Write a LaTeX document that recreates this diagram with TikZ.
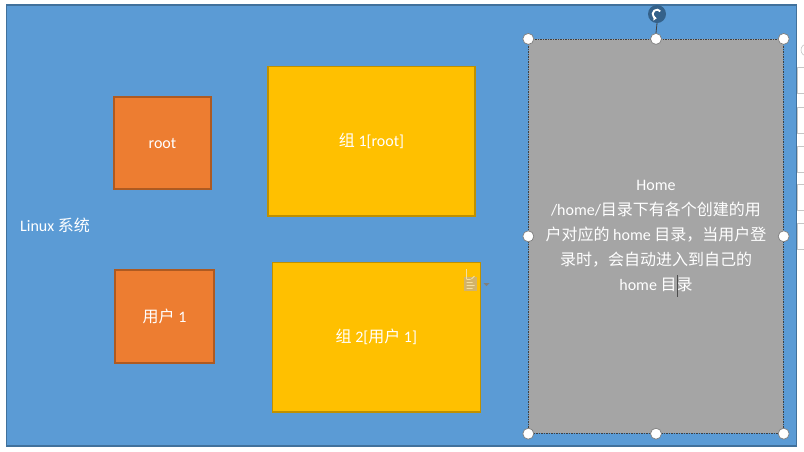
\documentclass[tikz,border=0pt]{standalone}
\usepackage{fontspec}
\setmainfont{Carlito}
\newfontfamily\cjk{Noto Sans CJK SC}
\usetikzlibrary{arrows.meta}
\definecolor{bgblue}{HTML}{5B9BD5}
\definecolor{bgblueline}{HTML}{41719C}
\definecolor{orangefill}{HTML}{ED7D31}
\definecolor{orangeline}{HTML}{AE5A21}
\definecolor{yellowfill}{HTML}{FFC000}
\definecolor{yellowline}{HTML}{BF9000}
\definecolor{grayfill}{HTML}{A5A5A5}
\definecolor{rotblue}{HTML}{34618A}
\definecolor{handleline}{HTML}{7F7F7F}
\definecolor{tbline}{HTML}{C6C6C6}
\definecolor{pastefill}{HTML}{D2B36C}
\definecolor{pasteline}{HTML}{F5DFA0}
\tikzset{
  txt/.style={text=white, font=\fontsize{16}{25}\selectfont},
  userbox/.style={draw=orangeline, fill=orangefill, line width=1.6pt, txt, inner sep=0pt},
  groupbox/.style={draw=yellowline, fill=yellowfill, line width=1.6pt, txt, inner sep=0pt},
  handle/.style={circle, fill=white, draw=handleline, line width=0.7pt, minimum size=11pt, inner sep=0pt},
  tbbox/.style={fill=white, draw=tbline, line width=0.6pt, inner sep=0pt}
}
\begin{document}
\begin{tikzpicture}[x=1pt,y=-1pt]
\useasboundingbox (0,0) rectangle (804,451);
\fill[white] (0,0) rectangle (804,451);
% background
\node[draw=bgblueline, fill=bgblue, line width=1.5pt, minimum width=790pt, minimum height=441pt, inner sep=0pt] (sys) at (401.5,225.5) {};
\node[txt, anchor=west, inner sep=0pt] (systxt) at (20,225) {Linux {\cjk 系统}};
% users
\node[userbox, minimum width=97pt, minimum height=92pt] (root) at (162.5,143) {root};
\node[userbox, minimum width=99pt, minimum height=93pt] (user1) at (164.5,316.5) {{\cjk 用户} 1};
% groups
\node[groupbox, minimum width=207.5pt, minimum height=149.5pt] (g1) at (371.5,141.2) {{\cjk 组} 1[root]};
\node[groupbox, minimum width=208pt, minimum height=149.5pt] (g2) at (376.3,337.2) {{\cjk 组} 2[{\cjk 用户} 1]};
% paste icon
\node[fill=pastefill, minimum width=13pt, minimum height=14pt, inner sep=0pt] (paste) at (470.5,284) {};
\draw[pasteline, line width=0.9pt]
  ([xshift=-4pt,yshift=4.5pt]paste.center) -- ++(4,0)
  ([xshift=-4pt,yshift=1.5pt]paste.center) -- ++(6,0)
  ([xshift=-4pt,yshift=-1.5pt]paste.center) -- ++(8,0)
  ([xshift=-4pt,yshift=-4.5pt]paste.center) -- ++(6,0)
  ([xshift=-4pt,yshift=5pt]paste.center) -- ++(0,-10)
  ([xshift=1pt,yshift=5pt]paste.center) -- ++(3,-3);
\coordinate (pastearrow) at (486.5,284);
\fill[handleline] (pastearrow) ++(-3,-1) -- ++(6,0) -- ++(-3,3) -- cycle;
% home box
\node[fill=grayfill, draw=black!75, dash pattern=on 1.5pt off 1pt, line width=0.8pt, minimum width=254.6pt, minimum height=394pt, inner sep=0pt, txt, align=center] (home) at (656,236.3)
{Home\\
/home/{\cjk 目录下有各个创建的用}\\
{\cjk 户对应的} home {\cjk 目录，当用户登}\\
{\cjk 录时，会自动进入到自己的}\\
home {\cjk 目录}};
% text cursor
\draw[black!70, line width=1.4pt] (677.6,275) -- (677.6,297);
% rotation handle
\node[circle, fill=rotblue, minimum size=18pt, inner sep=0pt] (rot) at (657,14) {};
\node[handle] (hn) at (home.north) {};
\draw[black!75, line width=0.8pt] (rot.south) -- (hn.north);
\draw[white, line width=1.9pt, -{Triangle[length=3pt,width=5pt]}] (rot.center) ++(-40:4.3) arc[start angle=-40, end angle=-265, radius=4.3];
% handles
\node[handle] (hnw) at (home.north west) {};
\node[handle] (hne) at (home.north east) {};
\node[handle] (hw) at (home.west) {};
\node[handle] (he) at (home.east) {};
\node[handle] (hsw) at (home.south west) {};
\node[handle] (hs) at (home.south) {};
\node[handle] (hse) at (home.south east) {};
% toolbar artifacts at right edge
\node[circle, draw=tbline, fill=white, line width=0.6pt, minimum size=12pt, inner sep=0pt] (tbc) at (807,50) {};
\node[tbbox, minimum width=10pt, minimum height=26pt] (tb1) at (802,80) {};
\node[tbbox, minimum width=10pt, minimum height=26pt] (tb2) at (802,120) {};
\node[tbbox, minimum width=10pt, minimum height=26pt] (tb3) at (802,159) {};
\node[tbbox, minimum width=10pt, minimum height=26pt] (tb4) at (802,197.5) {};
\node[tbbox, minimum width=10pt, minimum height=26pt] (tb5) at (802,236) {};
\end{tikzpicture}
\end{document}
